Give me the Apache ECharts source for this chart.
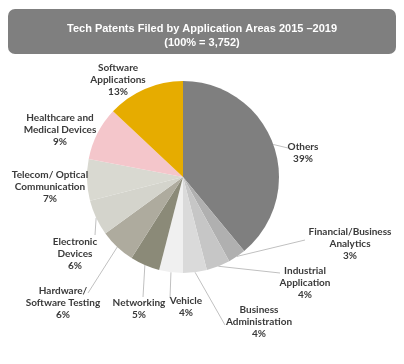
<!DOCTYPE html>
<html>
<head>
<meta charset="utf-8">
<script src="https://cdn.jsdelivr.net/npm/echarts@6/dist/echarts.min.js"></script>
<style>html,body{margin:0;padding:0;background:#fff}#c{width:404px;height:364px}</style>
</head>
<body>
<div id="c"></div>
<script>
// Data
var categories = ['Others', 'Financial/Business\nAnalytics', 'Industrial\nApplication', 'Business\nAdministration', 'Vehicle', 'Networking', 'Hardware/\nSoftware Testing', 'Electronic\nDevices', 'Telecom/ Optical\nCommunication', 'Healthcare and\nMedical Devices', 'Software\nApplications'];
var shares = [39, 3, 4, 4, 4, 5, 6, 6, 7, 9, 13];
var titleLines = ['Tech Patents Filed by Application Areas 2015 \u20132019', '(100% = 3,752)'];

// Styles / annotation placement
var colors = ['#7f7f7f', '#b0b0b0', '#c6c6c6', '#dadada', '#f0f0f0', '#8b8a78', '#aeab9e', '#d4d4cc', '#d9d9d1', '#f4c6cb', '#e6ac00'];
var labelPos = [[303, 153], [350, 244], [305, 283], [259, 322], [186, 307], [139, 309], [63, 303], [75, 254], [50, 187], [60, 130], [118, 80]];
var lineEnd = [[288, 148], [305, 240], [280, 273], [225, 325], [170, 298], [143, 297], [88, 293], [95, 235], null, null, null];

var chart = echarts.init(document.getElementById('c'), null, {renderer: 'canvas'});
var data = categories.map(function (n, i) {
  return {
    name: n, value: shares[i],
    itemStyle: {color: colors[i]},
    labelLine: {show: lineEnd[i] != null}
  };
});
chart.setOption({
  animation: false,
  graphic: [{
    type: 'rect', left: 8, top: 9, z: -1,
    shape: {width: 388, height: 45, r: 7},
    style: {fill: '#7f7f7f'}
  }],
  title: {
    text: titleLines.join('\n'),
    left: 'center', top: 17,
    textStyle: {color: '#ffffff', fontFamily: 'Liberation Sans, Arial, sans-serif', fontSize: 11, fontWeight: 'bold', lineHeight: 14}
  },
  series: [{
    type: 'pie',
    center: [183, 177],
    radius: [0, 96],
    startAngle: 90,
    clockwise: true,
    avoidLabelOverlap: false,
    data: data,
    label: {
      show: true,
      formatter: '{b}\n{c}%',
      color: '#3a3a3a',
      fontFamily: 'Lato, sans-serif',
      fontWeight: 'bold',
      fontSize: 10,
      lineHeight: 12,
      align: 'center'
    },
    labelLine: {
      show: true, length: 8, length2: 8,
      lineStyle: {color: '#c0c0c0', width: 1}
    },
    labelLayout: function (p) {
      var i = p.dataIndex;
      var pos = labelPos[i];
      var out = {x: pos[0], y: pos[1], align: 'center', verticalAlign: 'middle'};
      if (lineEnd[i] && p.labelLinePoints) {
        var s = p.labelLinePoints[0];
        out.labelLinePoints = [[s[0], s[1]], lineEnd[i], lineEnd[i]];
      }
      return out;
    },
    emphasis: {disabled: true}
  }]
});
</script>
</body>
</html>
